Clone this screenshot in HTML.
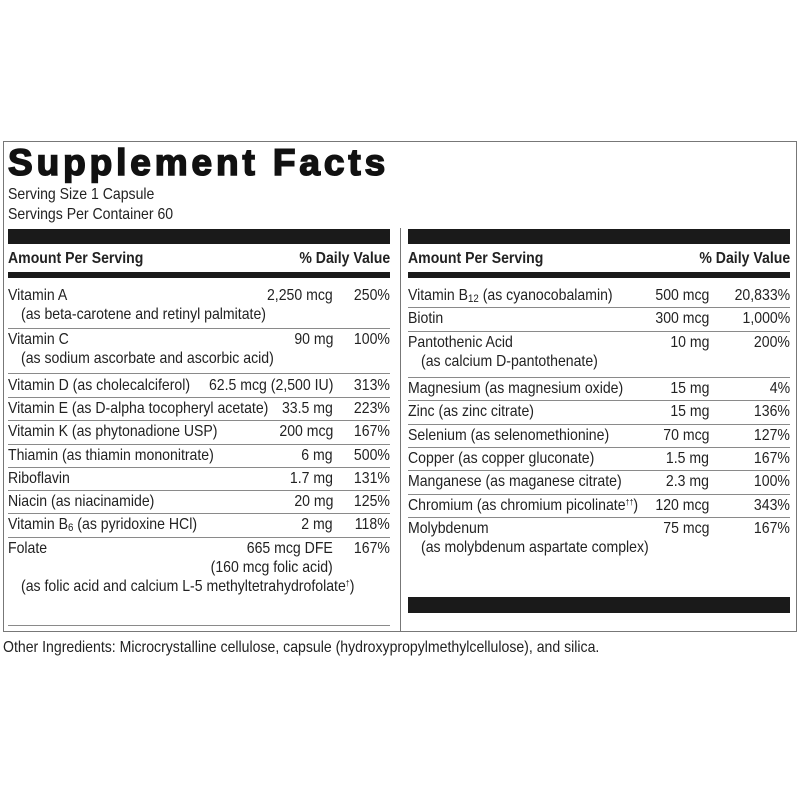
<!DOCTYPE html>
<html><head><meta charset="utf-8"><style>
body{margin:0;background:#fff;width:800px;height:800px;position:relative;overflow:hidden;font-family:"Liberation Sans",sans-serif;color:#222}
.t,.r{position:absolute;white-space:nowrap;font-size:16px;line-height:17px;transform:scaleX(.88)}
.t{transform-origin:left}
.r{transform-origin:right}
.b{font-weight:bold}
.bar{position:absolute;background:#1a1a1a}
.ln{position:absolute;height:1px;background:#8a8a8a}
sub{font-size:11px;vertical-align:-2px;line-height:0}
sup{font-size:8px;vertical-align:5px;line-height:0}
</style></head><body>
<div style="position:absolute;left:3px;top:141px;width:792px;height:489px;border:1px solid #777"></div>
<div style="position:absolute;left:400px;top:228px;width:1px;height:403px;background:#777"></div>
<div style="position:absolute;left:8px;top:143px;font-size:37px;line-height:40px;font-weight:900;letter-spacing:3.9px;-webkit-text-stroke:1.6px #111;color:#111;white-space:nowrap">Supplement Facts</div>
<div class="t" style="left:8px;top:186px">Serving Size 1 Capsule</div>
<div class="t" style="left:8px;top:206px">Servings Per Container 60</div>

<div class="bar" style="left:8px;top:229px;width:382px;height:15px"></div>
<div class="bar" style="left:408px;top:229px;width:382px;height:15px"></div>
<div class="t b" style="left:8px;top:250px">Amount Per Serving</div>
<div class="r b" style="right:410px;top:250px">% Daily Value</div>
<div class="t b" style="left:408px;top:250px">Amount Per Serving</div>
<div class="r b" style="right:10px;top:250px">% Daily Value</div>
<div class="bar" style="left:8px;top:272px;width:382px;height:6px"></div>
<div class="bar" style="left:408px;top:272px;width:382px;height:6px"></div>

<div class="t" style="left:8px;top:287px">Vitamin A</div><div class="r" style="right:467px;top:287px">2,250 mcg</div><div class="r" style="right:410px;top:287px">250%</div>
<div class="t" style="left:21px;top:306px">(as beta-carotene and retinyl palmitate)</div>
<div class="ln" style="left:8px;top:328px;width:382px"></div>
<div class="t" style="left:8px;top:331px">Vitamin C</div><div class="r" style="right:467px;top:331px">90 mg</div><div class="r" style="right:410px;top:331px">100%</div>
<div class="t" style="left:21px;top:350px">(as sodium ascorbate and ascorbic acid)</div>
<div class="ln" style="left:8px;top:373px;width:382px"></div>
<div class="t" style="left:8px;top:377px">Vitamin D (as cholecalciferol)</div><div class="r" style="right:467px;top:377px">62.5 mcg (2,500 IU)</div><div class="r" style="right:410px;top:377px">313%</div>
<div class="ln" style="left:8px;top:397px;width:382px"></div>
<div class="t" style="left:8px;top:400px">Vitamin E (as D-alpha tocopheryl acetate)</div><div class="r" style="right:467px;top:400px">33.5 mg</div><div class="r" style="right:410px;top:400px">223%</div>
<div class="ln" style="left:8px;top:420px;width:382px"></div>
<div class="t" style="left:8px;top:423px">Vitamin K (as phytonadione USP)</div><div class="r" style="right:467px;top:423px">200 mcg</div><div class="r" style="right:410px;top:423px">167%</div>
<div class="ln" style="left:8px;top:444px;width:382px"></div>
<div class="t" style="left:8px;top:447px">Thiamin (as thiamin mononitrate)</div><div class="r" style="right:467px;top:447px">6 mg</div><div class="r" style="right:410px;top:447px">500%</div>
<div class="ln" style="left:8px;top:467px;width:382px"></div>
<div class="t" style="left:8px;top:470px">Riboflavin</div><div class="r" style="right:467px;top:470px">1.7 mg</div><div class="r" style="right:410px;top:470px">131%</div>
<div class="ln" style="left:8px;top:490px;width:382px"></div>
<div class="t" style="left:8px;top:493px">Niacin (as niacinamide)</div><div class="r" style="right:467px;top:493px">20 mg</div><div class="r" style="right:410px;top:493px">125%</div>
<div class="ln" style="left:8px;top:513px;width:382px"></div>
<div class="t" style="left:8px;top:516px">Vitamin B<sub>6</sub> (as pyridoxine HCl)</div><div class="r" style="right:467px;top:516px">2 mg</div><div class="r" style="right:410px;top:516px">118%</div>
<div class="ln" style="left:8px;top:537px;width:382px"></div>
<div class="t" style="left:8px;top:540px">Folate</div><div class="r" style="right:467px;top:540px">665 mcg DFE</div><div class="r" style="right:410px;top:540px">167%</div>
<div class="r" style="right:467px;top:559px">(160 mcg folic acid)</div>
<div class="t" style="left:21px;top:578px">(as folic acid and calcium L-5 methyltetrahydrofolate<sup>†</sup>)</div>
<div class="ln" style="left:8px;top:625px;width:382px"></div>

<div class="t" style="left:408px;top:287px">Vitamin B<sub>12</sub> (as cyanocobalamin)</div><div class="r" style="right:91px;top:287px">500 mcg</div><div class="r" style="right:10px;top:287px">20,833%</div>
<div class="ln" style="left:408px;top:307px;width:382px"></div>
<div class="t" style="left:408px;top:310px">Biotin</div><div class="r" style="right:91px;top:310px">300 mcg</div><div class="r" style="right:10px;top:310px">1,000%</div>
<div class="ln" style="left:408px;top:331px;width:382px"></div>
<div class="t" style="left:408px;top:334px">Pantothenic Acid</div><div class="r" style="right:91px;top:334px">10 mg</div><div class="r" style="right:10px;top:334px">200%</div>
<div class="t" style="left:421px;top:353px">(as calcium D-pantothenate)</div>
<div class="ln" style="left:408px;top:377px;width:382px"></div>
<div class="t" style="left:408px;top:380px">Magnesium (as magnesium oxide)</div><div class="r" style="right:91px;top:380px">15 mg</div><div class="r" style="right:10px;top:380px">4%</div>
<div class="ln" style="left:408px;top:400px;width:382px"></div>
<div class="t" style="left:408px;top:403px">Zinc (as zinc citrate)</div><div class="r" style="right:91px;top:403px">15 mg</div><div class="r" style="right:10px;top:403px">136%</div>
<div class="ln" style="left:408px;top:424px;width:382px"></div>
<div class="t" style="left:408px;top:427px">Selenium (as selenomethionine)</div><div class="r" style="right:91px;top:427px">70 mcg</div><div class="r" style="right:10px;top:427px">127%</div>
<div class="ln" style="left:408px;top:447px;width:382px"></div>
<div class="t" style="left:408px;top:450px">Copper (as copper gluconate)</div><div class="r" style="right:91px;top:450px">1.5 mg</div><div class="r" style="right:10px;top:450px">167%</div>
<div class="ln" style="left:408px;top:470px;width:382px"></div>
<div class="t" style="left:408px;top:473px">Manganese (as maganese citrate)</div><div class="r" style="right:91px;top:473px">2.3 mg</div><div class="r" style="right:10px;top:473px">100%</div>
<div class="ln" style="left:408px;top:494px;width:382px"></div>
<div class="t" style="left:408px;top:497px">Chromium (as chromium picolinate<sup>††</sup>)</div><div class="r" style="right:91px;top:497px">120 mcg</div><div class="r" style="right:10px;top:497px">343%</div>
<div class="ln" style="left:408px;top:517px;width:382px"></div>
<div class="t" style="left:408px;top:520px">Molybdenum</div><div class="r" style="right:91px;top:520px">75 mcg</div><div class="r" style="right:10px;top:520px">167%</div>
<div class="t" style="left:421px;top:539px">(as molybdenum aspartate complex)</div>
<div class="bar" style="left:408px;top:597px;width:382px;height:16px"></div>

<div class="t" style="left:3px;top:639px">Other Ingredients: Microcrystalline cellulose, capsule (hydroxypropylmethylcellulose), and silica.</div>
</body></html>
